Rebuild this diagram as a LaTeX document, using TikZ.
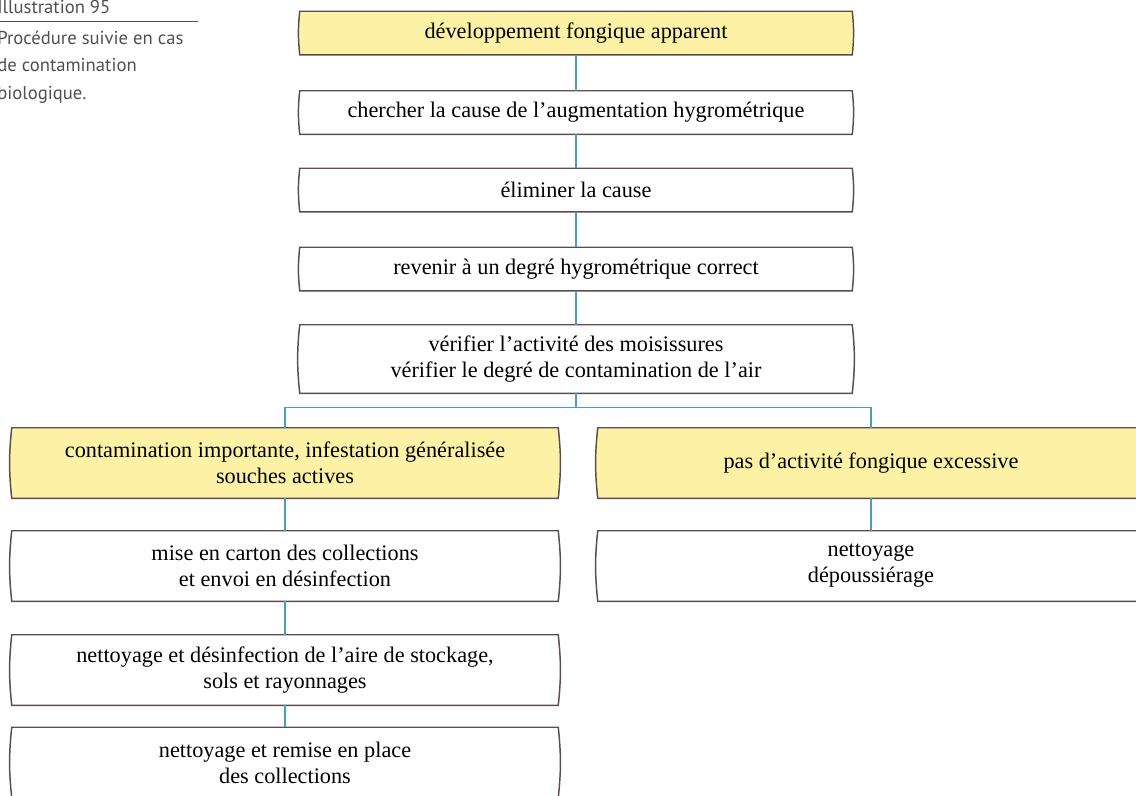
\documentclass[tikz,border=0pt]{standalone}
\usepackage{fontspec}
\setmainfont{Liberation Serif}
\newfontfamily\captionfont{PT Sans}
\usetikzlibrary{calc,positioning,backgrounds}
\definecolor{boxEdge}{RGB}{92,76,80}
\definecolor{linkTeal}{RGB}{72,160,182}
\definecolor{noteYellow}{RGB}{253,241,166}
\definecolor{captionGray}{RGB}{80,80,80}
\newcommand{\bowframe}[2]{%
  \filldraw[fill=#2, draw=boxEdge, line width=1.1pt]
    (#1.north west) -- (#1.north east) to[bend left=6] (#1.south east)
    -- (#1.south west) to[bend left=6] (#1.north west) -- cycle;}

\begin{document}
\begin{tikzpicture}[x=0.75pt, y=-0.75pt,
  stage/.style={inner sep=0pt, align=center, minimum height=32.25pt,
    font=\fontsize{16.7}{19.5}\selectfont},
  wide/.style={minimum width=414pt},
  half/.style={minimum width=409.5pt},
  tall/.style={minimum height=52.5pt},
  link/.style={draw=linkTeal, line width=1pt},
  caption/.style={anchor=base west, inner sep=0pt, text=captionGray,
    font=\captionfont\fontsize{14}{16}\selectfont}]
  \useasboundingbox (0,0) rectangle (1136,796);

  % caption
  \node[caption] (captitle) at (-3,13) {Illustration 95};
  \node[caption] (capline1) at (-3,44) {Procédure suivie en cas};
  \node[caption] (capline2) at (-3,71.5) {de contamination};
  \node[caption] (capline3) at (-3,99) {biologique.};
  \draw[captionGray, line width=0.6pt] (0,21) -- (198,21);

  % main column
  \node[stage, wide] (develop) at (576,33) {développement fongique apparent};
  \node[stage, wide] (cause) at (576,112.5) {chercher la cause de l’augmentation hygrométrique};
  \node[stage, wide] (remove) at (576,190) {éliminer la cause};
  \node[stage, wide] (restore) at (576,269) {revenir à un degré hygrométrique correct};
  \node[stage, wide, tall, minimum height=51pt] (check) at (576,359)
    {vérifier l’activité des moisissures\\vérifier le degré de contamination de l’air};

  % two branches
  \node[stage, half, tall] (severe) at (285,463)
    {contamination importante, infestation généralisée\\souches actives};
  \node[stage, half, tall] (mild) at (871,463) {pas d’activité fongique excessive};
  \node[stage, half, tall] (boxing) at (285,566)
    {mise en carton des collections\\et envoi en désinfection};
  \node[stage, half, tall] (clean) at (871,566) {nettoyage\\dépoussiérage};
  \node[stage, half, tall] (disinfect) at (285,670)
    {nettoyage et désinfection de l’aire de stockage,\\sols et rayonnages};
  \node[stage, half, tall] (replace) at (285,762.5)
    {nettoyage et remise en place\\des collections};

  \begin{scope}[on background layer]
    \foreach \b in {develop,severe,mild}{\bowframe{\b}{noteYellow}}
    \foreach \b in {cause,remove,restore,check,boxing,clean,disinfect,replace}{\bowframe{\b}{white}}
  \end{scope}

  \coordinate (fork) at ($(check.south)+(0,14)$);
  \draw[link] (develop) -- (cause);
  \draw[link] (cause) -- (remove);
  \draw[link] (remove) -- (restore);
  \draw[link] (restore) -- (check);
  \draw[link] (check) -- (fork) -| (severe);
  \draw[link] (fork) -| (mild);
  \draw[link] (severe) -- (boxing);
  \draw[link] (boxing) -- (disinfect);
  \draw[link] (disinfect) -- (replace);
  \draw[link] (mild) -- (clean);
\end{tikzpicture}
\end{document}
